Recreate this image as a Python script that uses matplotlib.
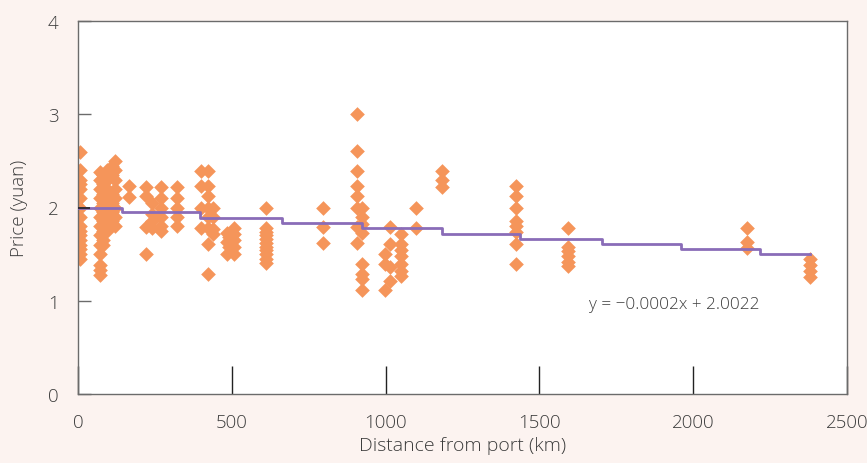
import numpy as np
import matplotlib.pyplot as plt

# price observations, grouped by distance from port (km)
dist_km = [7, 70, 80, 95, 110, 120, 166, 221, 240, 269, 321,
           400, 424, 440, 483, 492, 507, 610, 795, 906, 922,
           998, 1014, 1049, 1099, 1184, 1423, 1592, 2176, 2380]
prices = [
    [2.6, 2.4, 2.3, 2.25, 2.2, 2.1, 2.0, 1.9, 1.8, 1.75, 1.7, 1.65, 1.6, 1.55, 1.5, 1.45],
    [2.38, 2.3, 2.2, 2.1, 2.0, 1.9, 1.8, 1.7, 1.6, 1.5, 1.38, 1.33, 1.28],
    [2.35, 2.25, 2.15, 2.05, 1.95, 1.85, 1.75, 1.65, 1.6],
    [2.4, 2.3, 2.2, 2.1, 2.0, 1.9, 1.8, 1.75],
    [2.45, 2.35, 2.15, 2.05, 1.95, 1.85],
    [2.5, 2.4, 2.3, 2.2, 2.1, 2.0, 1.9, 1.8],
    [2.23, 2.11],
    [2.22, 2.12, 1.79, 1.5],
    [2.05, 1.93, 1.85, 1.78],
    [2.22, 2.1, 2.0, 1.9, 1.8, 1.75],
    [2.22, 2.1, 2.0, 1.9, 1.8],
    [2.39, 2.23, 2.0, 1.78],
    [2.39, 2.23, 2.12, 2.0, 1.9, 1.78, 1.61, 1.29],
    [2.0, 1.9, 1.77, 1.72],
    [1.73, 1.63, 1.5],
    [1.68, 1.58],
    [1.78, 1.72, 1.65, 1.58, 1.5],
    [2.0, 1.78, 1.74, 1.7, 1.66, 1.62, 1.58, 1.54, 1.5, 1.45, 1.4],
    [2.0, 1.79, 1.62],
    [3.0, 2.61, 2.39, 2.23, 2.12, 2.0, 1.79, 1.62],
    [2.0, 1.9, 1.82, 1.73, 1.39, 1.29, 1.23, 1.11],
    [1.5, 1.39, 1.11],
    [1.79, 1.61, 1.36, 1.21],
    [1.72, 1.61, 1.54, 1.48, 1.39, 1.32, 1.27],
    [2.0, 1.78],
    [2.39, 2.29, 2.22],
    [2.23, 2.12, 1.99, 1.86, 1.80, 1.74, 1.61, 1.39],
    [1.78, 1.58, 1.53, 1.48, 1.42, 1.37],
    [1.78, 1.63, 1.57],
    [1.45, 1.38, 1.32, 1.26],
]

# stepped trend line
step_x = [0, 143, 397, 663, 923, 1183, 1437, 1703, 1960, 2217, 2380]
step_y = [2.00, 1.947, 1.887, 1.834, 1.78, 1.72, 1.666, 1.61, 1.555, 1.50, 1.50]

bg = '#fcf3f0'
txt = '#3c3c3c'
plt.rcParams['font.family'] = ['Open Sans', 'DejaVu Sans']
plt.rcParams['font.weight'] = 'light'
plt.rcParams['axes.labelweight'] = 'light'

fig = plt.figure(figsize=(8.67, 4.64), dpi=100, facecolor=bg)
ax = fig.add_axes([78/867, 69/464, (847-78)/867, (395-22)/464])
ax.set_facecolor('white')

xs = np.concatenate([[d]*len(p) for d, p in zip(dist_km, prices)])
ys = np.concatenate(prices)
ax.scatter(xs, ys, marker='D', s=56, color='#f5955a', linewidths=0, zorder=2)

ax.plot(step_x, step_y, drawstyle='steps-post', color='#8a6cb8', lw=2, zorder=3)
# short dark stub at the start of the trend line
ax.plot([0, 40], [step_y[0], step_y[0]], color='#222222', lw=1.2, zorder=4,
        solid_capstyle='butt')

ax.text(1937, 0.96, 'y = \u22120.0002x + 2.0022', fontsize=12.3, color=txt,
        ha='center', va='center')

ax.set_xlim(0, 2500)
ax.set_ylim(0, 4)
ax.set_xticks([0, 500, 1000, 1500, 2000, 2500])
ax.set_yticks([0, 1, 2, 3, 4])
ax.tick_params(axis='x', direction='in', length=20, width=1, color='#222222',
               labelsize=13.5, labelcolor=txt, pad=14)
ax.tick_params(axis='y', direction='in', length=9, width=1, color='#6b6b6b',
               labelsize=13.5, labelcolor=txt, pad=14)
for s in ax.spines.values():
    s.set_color('#6b6b6b')
    s.set_linewidth(1)

ax.set_xlabel('Distance from port (km)', fontsize=14, color=txt, labelpad=3)
ax.set_ylabel('Price (yuan)', fontsize=13.5, color=txt, labelpad=14)

fig.savefig('out.png', dpi=100, facecolor=bg)
